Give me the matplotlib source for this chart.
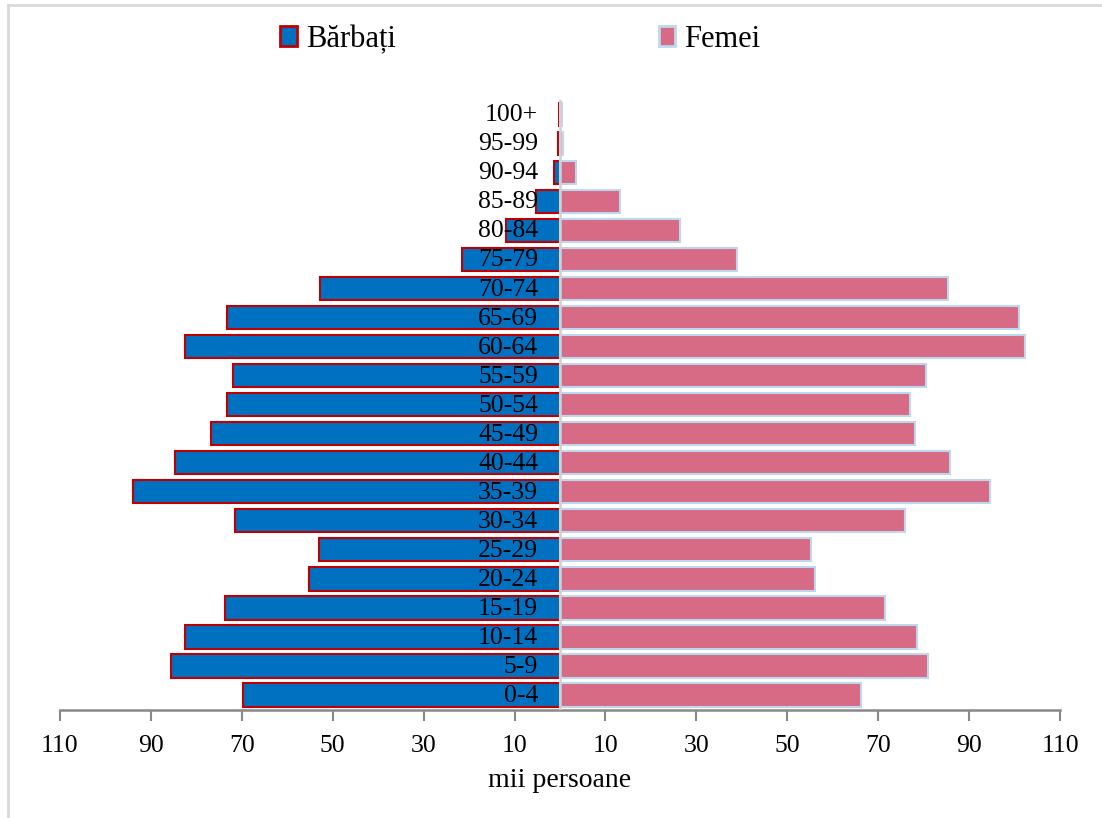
import matplotlib
matplotlib.use("Agg")
import matplotlib.pyplot as plt
from matplotlib.patches import Patch
from matplotlib.lines import Line2D

# age groups, bottom to top
age_groups = ["0-4", "5-9", "10-14", "15-19", "20-24", "25-29", "30-34",
              "35-39", "40-44", "45-49", "50-54", "55-59", "60-64", "65-69",
              "70-74", "75-79", "80-84", "85-89", "90-94", "95-99", "100+"]

# thousands of persons
barbati = [69.7, 85.5, 82.5, 73.8, 55.2, 53.0, 71.4, 94.0, 84.7, 76.7, 73.3,
           72.0, 82.4, 73.3, 52.7, 21.6, 11.9, 5.2, 1.3, 0.4, 0.3]
femei = [66.2, 81.0, 78.5, 71.5, 56.1, 55.2, 75.8, 94.7, 85.9, 78.0, 76.9,
         80.5, 102.2, 101.0, 85.4, 38.9, 26.5, 13.1, 3.5, 0.7, 0.4]

tick_vals = [-110, -90, -70, -50, -30, -10, 10, 30, 50, 70, 90, 110]

plt.rcParams["font.family"] = ["Liberation Serif", "DejaVu Serif"]

fig = plt.figure(figsize=(11.02, 8.18), dpi=100)
ax = fig.add_axes([0.0544, 0.1326, 0.9075, 0.7452])

y = range(len(age_groups))
male_c = "#0070c0"
female_c = "#d76b85"

ax.barh(y, [-v for v in barbati], height=0.8, color=male_c,
        edgecolor="#c00000", linewidth=1.5, zorder=2)
ax.barh(y, femei, height=0.8, color=female_c,
        edgecolor="#bdd7ee", linewidth=1.5, zorder=2)

ax.axvline(0, color="#d0d0d0", linewidth=1.8, zorder=3)

for i, lab in enumerate(age_groups):
    ax.text(-4.8, i - 0.03, lab, ha="right", va="center", fontsize=18.5,
            color="black", zorder=4)

ax.set_xlim(-110, 110)
ax.set_ylim(-0.5, len(age_groups) - 0.5)
ax.set_xticks(tick_vals)
ax.set_xticklabels([str(abs(v)) for v in tick_vals], fontsize=18.5)
ax.set_yticks([])
ax.tick_params(axis="x", direction="out", length=8, width=1.5,
               color="#888888", pad=10)
for side in ["top", "left", "right"]:
    ax.spines[side].set_visible(False)
ax.spines["bottom"].set_color("#888888")
ax.spines["bottom"].set_linewidth(1.8)
ax.set_xlabel("mii persoane", fontsize=20, labelpad=8)

handles = [Patch(facecolor=male_c, edgecolor="#c00000", linewidth=2),
           Patch(facecolor=female_c, edgecolor="#bdd7ee", linewidth=2)]
fig.legend(handles, ["Bărbați", "Femei"], loc="center left",
           bbox_to_anchor=(0.254, 0.952), ncol=2, frameon=False,
           fontsize=22, handlelength=0.55, handleheight=0.65,
           handletextpad=0.3, columnspacing=8.6, borderpad=0,
           borderaxespad=0)

# light frame edges at top and left
fig.add_artist(Line2D([0.0073, 0.0073], [0, 0.994], transform=fig.transFigure,
                      color="#d9d9d9", linewidth=2))
fig.add_artist(Line2D([0.0073, 1], [0.994, 0.994], transform=fig.transFigure,
                      color="#d9d9d9", linewidth=2))

fig.savefig("out.png", dpi=100, facecolor="white")
